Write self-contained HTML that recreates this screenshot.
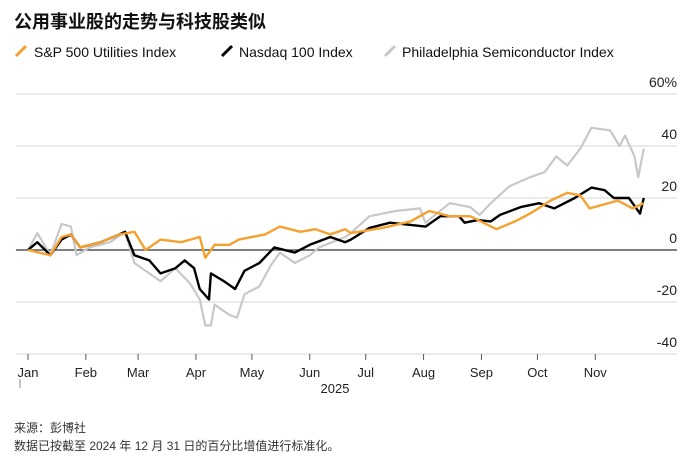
<!DOCTYPE html>
<html><head><meta charset="utf-8"><style>
body{margin:0;background:#fff;width:700px;height:466px;overflow:hidden;font-family:"Liberation Sans","Noto Sans CJK SC",sans-serif;}
</style></head><body>
<svg width="700" height="466" style="display:block">
<text x="14" y="28" font-size="18" font-weight="bold" fill="#111" font-family="Liberation Sans, Noto Sans CJK SC, sans-serif">公用事业股的走势与科技股类似</text>
<g font-size="14" fill="#111">
<g><line x1="16" y1="56" x2="26" y2="46" stroke="#f5a12f" stroke-width="3"/><text x="34" y="57">S&amp;P 500 Utilities Index</text></g>
<g><line x1="222" y1="56" x2="232" y2="46" stroke="#000" stroke-width="3"/><text x="239" y="57">Nasdaq 100 Index</text></g>
<g><line x1="385" y1="56" x2="395" y2="46" stroke="#c8c8c8" stroke-width="3"/><text x="402" y="57">Philadelphia Semiconductor Index</text></g>
</g>
<g id="grid"></g>
<g id="yl" font-size="14" fill="#222" text-anchor="end"></g>
<g id="series"></g>
<g id="xa" font-size="13" fill="#222" text-anchor="middle"></g>
<text x="335" y="393" font-size="13" fill="#222" text-anchor="middle">2025</text>
<line x1="20" y1="379" x2="20" y2="388" stroke="#888"/>
<text x="14" y="432" font-size="12" fill="#333">来源：彭博社</text>
<text x="14" y="450" font-size="12" fill="#333">数据已按截至 2024 年 12 月 31 日的百分比增值进行标准化。</text>
</svg>
<script>
const yTicks=[60,40,20,0,-20,-40];
const months=["Jan","Feb","Mar","Apr","May","Jun","Jul","Aug","Sep","Oct","Nov"];
const monthStartDays=[0,31,59,90,120,151,181,212,243,273,304];
const utilDays=[0,12,18,23,28,39,49,57,63,71,82,92,95,100,108,113,127,135,146,154,162,170,173,190,205,215,226,237,251,261,269,280,289,296,301,316,324,330];
const utilVals=[0,-2,5,6,1,3,6,7,0,4,3,5,-3,2,2,4,6,9,7,8,6,8,6.5,8.5,11,15,13,13,8,11,14,19,22,21,16,19,16,18];
const ndxDays=[0,5,12,18,23,28,39,49,52,57,65,71,79,84,89,92,97,98,105,111,116,124,132,143,151,162,170,173,183,194,213,221,231,234,241,248,253,264,274,282,293,302,309,314,322,328,330];
const ndxVals=[0,3,-2,4,6,1,3,6,7,-2,-4,-9,-7,-4,-7,-15,-19,-9,-12,-15,-8,-5,1,-1,2,5,3,4,8.5,10.5,9,13,13,10.5,11.5,11,13.5,16.5,18,16,20,24,23,20,20,14,20];
const soxDays=[0,5,12,18,23,26,33,44,52,57,65,71,79,87,92,95,98,100,108,112,116,124,130,135,143,151,156,170,173,183,197,210,213,226,237,242,248,258,269,277,283,289,296,302,312,317,320,325,327,330];
const soxVals=[0,6.5,-2,10,9,-2,1,3,7,-5,-9,-12,-7,-13,-19,-29,-29,-21,-25,-26,-17,-14,-6,-1,-5,-2,1,5,6.5,13,15,16,10.5,18,16.5,13.5,18,24.5,28,30,36,32.5,39,47,46,40,44,36,28,39];
const NS="http://www.w3.org/2000/svg";
const X0=16,X1=677;
function xs(d){return 28+d*1.866;}
function ys(v){return 250-v*2.6;}
function mk(t,a,p){const e=document.createElementNS(NS,t);for(const k in a)e.setAttribute(k,a[k]);p.appendChild(e);return e;}
const grid=document.getElementById('grid'),yl=document.getElementById('yl');
yTicks.forEach((t,i)=>{
  const l=mk('line',{x1:X0,x2:X1,y1:ys(t),y2:ys(t),stroke:t===0?'#333':'#ddd','stroke-width':t===0?1.2:1.3},grid);
  
  
  const tx=mk('text',{x:X1,y:ys(t)-7},yl);tx.textContent=t+(i===0?'%':'');
  
  
});
const xa=document.getElementById('xa');
const base=mk('line',{x1:X0,x2:X1,y1:354,y2:354,stroke:'#ddd'},xa);


months.forEach((m,i)=>{
  const x=xs(monthStartDays[i]);
  const tk=mk('line',{x1:x,x2:x,y1:354,y2:360,stroke:'#555'},xa);
  
  
  const tx=mk('text',{x:x,y:377},xa);tx.textContent=m;
  
  
});
const sg=document.getElementById('series');
function line(days,vals,color,w,name){
  const d=days.map((dd,i)=>(i?'L':'M')+xs(dd).toFixed(1)+' '+ys(vals[i]).toFixed(1)).join('');
  const p=mk('path',{d:d,fill:'none',stroke:color,'stroke-width':w,'stroke-linejoin':'round'},sg);
  
  
}
line(soxDays,soxVals,'#c8c8c8',2.2,'semiconductor-line');
line(ndxDays,ndxVals,'#000',2.4,'nasdaq-line');
line(utilDays,utilVals,'#f5a12f',2.4,'utilities-line');
</script>
</body></html>
